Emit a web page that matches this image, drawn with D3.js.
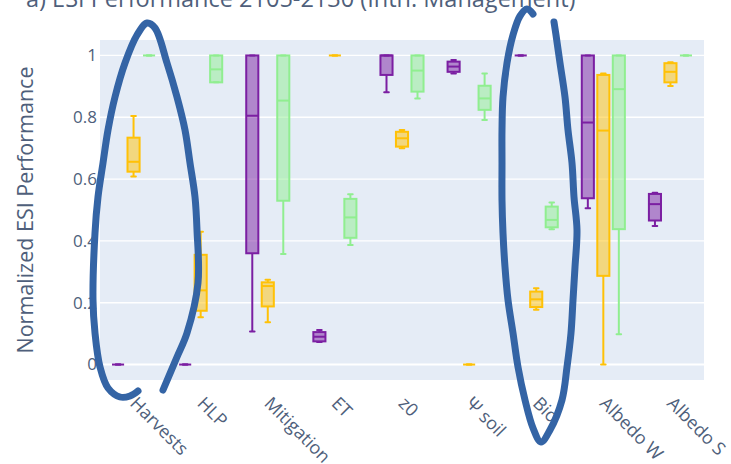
<!DOCTYPE html>
<html>
<head>
<meta charset="utf-8">
<script src="https://cdn.jsdelivr.net/npm/d3@7"></script>
<style>
  html, body { margin: 0; padding: 0; background: #ffffff; }
  svg { display: block; }
  text { font-family: "Open Sans", "Noto Sans", sans-serif; }
</style>
</head>
<body>
<svg id="chart" width="731" height="464"></svg>
<script>
// ---------- DATA ----------
const categories = ["Harvests", "HLP", "Mitigation", "ET", "z0", "\u03A8 soil", "Bio", "Albedo W", "Albedo S"];
const seriesNames = ["Series 1", "Series 2", "Series 3"];
// each entry: [min, q1, median, q3, max]
const purpleStats = [
  [0, 0, 0, 0, 0],
  [0, 0, 0, 0, 0],
  [0.107, 0.36, 0.805, 1, 1],
  [0.073, 0.075, 0.09, 0.105, 0.112],
  [0.881, 0.937, 1, 1, 1],
  [0.942, 0.947, 0.964, 0.98, 0.985],
  [1, 1, 1, 1, 1],
  [0.506, 0.538, 0.783, 1, 1],
  [0.448, 0.466, 0.519, 0.552, 0.556]
];
const orangeStats = [
  [0.608, 0.624, 0.656, 0.734, 0.804],
  [0.153, 0.174, 0.24, 0.355, 0.43],
  [0.137, 0.188, 0.254, 0.266, 0.274],
  [1, 1, 1, 1, 1],
  [0.70, 0.705, 0.732, 0.753, 0.759],
  [0, 0, 0, 0, 0],
  [0.177, 0.186, 0.211, 0.236, 0.247],
  [0, 0.287, 0.757, 0.937, 0.942],
  [0.901, 0.913, 0.947, 0.975, 0.978]
];
const greenStats = [
  [1, 1, 1, 1, 1],
  [0.913, 0.913, 0.955, 1, 1],
  [0.358, 0.53, 0.854, 1, 1],
  [0.387, 0.41, 0.476, 0.536, 0.551],
  [0.861, 0.883, 0.951, 1, 1],
  [0.791, 0.824, 0.861, 0.902, 0.942],
  [0.438, 0.444, 0.468, 0.511, 0.524],
  [0.098, 0.438, 0.891, 1, 1],
  [1, 1, 1, 1, 1]
];
const seriesColors = ["#7B1FA2", "#FFC107", "#90EE90"];
const yTicks = [0, 0.2, 0.4, 0.6, 0.8, 1];
const yTickLabels = ["0", "0.2", "0.4", "0.6", "0.8", "1"];
const titleText = "a) ESI Performance 2105-2130 (Intn. Management)";
const yTitle = "Normalized ESI Performance";

// hand-drawn annotation strokes (overlay, pixel space)
const annotationStrokes = [
  [[138,391],[130,396],[120,397],[108,388],[100,367],[95,333],[93,300],[95,233],[98,197],[103,163],[108,130],[115,97],[125,63],[137,35],[147,23],[155,28],[167,63],[177,97],[185,130],[190,163],[195,197],[197,230],[198,283],[187,333],[177,357],[163,390]],
  [[533,14],[527,9],[520,16],[513,35],[507,63],[503,97],[502,130],[502,163],[502,200],[503,233],[505,267],[508,300],[513,333],[518,367],[525,400],[533,428],[541,442],[550,430],[562,400],[567,367],[571,333],[573,300],[575,267],[577,230],[574,197],[572,163],[568,130],[565,97],[560,63],[556,35],[554,22]]
];

// ---------- LAYOUT ----------
const W = 731, H = 464;
const plot = { left: 100, right: 704, top: 40, bottom: 380 };
const textColor = "#4f5f7b";
const svg = d3.select("#chart");

const x = d3.scaleBand().domain(categories).range([plot.left, plot.right]).paddingInner(0).paddingOuter(0);
const xSub = d3.scaleBand().domain(seriesNames).range([0, x.bandwidth()]).paddingInner(0).paddingOuter(0.665);
const y = d3.scaleLinear().domain([-0.05, 1.05]).range([plot.bottom, plot.top]);

// background
svg.append("rect").attr("x", plot.left).attr("y", plot.top)
  .attr("width", plot.right - plot.left).attr("height", plot.bottom - plot.top)
  .attr("fill", "#E5ECF6");

// grid
svg.append("g").selectAll("line").data(yTicks).join("line")
  .attr("x1", plot.left).attr("x2", plot.right)
  .attr("y1", d => y(d)).attr("y2", d => y(d))
  .attr("stroke", "#ffffff").attr("stroke-width", d => d === 0 ? 2 : 1.3);

// y axis labels
const yAxis = d3.axisLeft(y).tickValues(yTicks).tickFormat((d, i) => yTickLabels[i]).tickSize(0).tickPadding(3);
const yg = svg.append("g").attr("transform", `translate(${plot.left},0)`).call(yAxis);
yg.select(".domain").remove();
yg.selectAll("text").attr("fill", textColor).style("font-size", "17px").style("font-family", '"Open Sans", sans-serif');

// x axis labels rotated
const xg = svg.append("g");
xg.selectAll("text").data(categories).join("text")
  .attr("transform", d => `translate(${x(d) + x.bandwidth() / 2},400) rotate(45)`)
  .attr("dy", "0.35em")
  .attr("text-anchor", "start")
  .attr("fill", textColor)
  .style("font-size", "18px")
  .text(d => d);

// y title
svg.append("text")
  .attr("transform", `translate(33,${(plot.top + plot.bottom) / 2}) rotate(-90)`)
  .attr("text-anchor", "middle")
  .attr("fill", textColor)
  .style("font-size", "21.5px")
  .text(yTitle);

// title (partially clipped at top, as in the reference)
svg.append("text")
  .attr("x", 26).attr("y", 7)
  .attr("fill", textColor)
  .style("font-size", "23.5px")
  .text(titleText);

// boxes
const allStats = [purpleStats, orangeStats, greenStats];
const boxW = xSub.bandwidth() * 0.78;
const capW = boxW * 0.38;
allStats.forEach((stats, si) => {
  const color = seriesColors[si];
  const g = svg.append("g");
  stats.forEach((s, ci) => {
    const cx = x(categories[ci]) + xSub(seriesNames[si]) + xSub.bandwidth() / 2;
    const [mn, q1, md, q3, mx] = s;
    const bg = g.append("g");
    bg.append("line").attr("x1", cx).attr("x2", cx).attr("y1", y(q3)).attr("y2", y(mx))
      .attr("stroke", color).attr("stroke-width", 2);
    bg.append("line").attr("x1", cx).attr("x2", cx).attr("y1", y(q1)).attr("y2", y(mn))
      .attr("stroke", color).attr("stroke-width", 2);
    [mn, mx].forEach(v => {
      bg.append("line").attr("x1", cx - capW / 2).attr("x2", cx + capW / 2)
        .attr("y1", y(v)).attr("y2", y(v))
        .attr("stroke", color).attr("stroke-width", 2).attr("stroke-linecap", "round");
    });
    bg.append("rect").attr("x", cx - boxW / 2).attr("width", boxW)
      .attr("y", y(q3)).attr("height", Math.max(0, y(q1) - y(q3)))
      .attr("fill", color).attr("fill-opacity", 0.5)
      .attr("stroke", color).attr("stroke-width", 2);
    bg.append("line").attr("x1", cx - boxW / 2).attr("x2", cx + boxW / 2)
      .attr("y1", y(md)).attr("y2", y(md))
      .attr("stroke", color).attr("stroke-width", 2);
  });
});

// annotation strokes
const ann = d3.line().curve(d3.curveCatmullRom.alpha(0.5));
svg.append("g").selectAll("path").data(annotationStrokes).join("path")
  .attr("d", d => ann(d))
  .attr("fill", "none")
  .attr("stroke", "#3464A5")
  .attr("stroke-width", 7)
  .attr("stroke-linecap", "round")
  .attr("stroke-linejoin", "round");
</script>
</body>
</html>
